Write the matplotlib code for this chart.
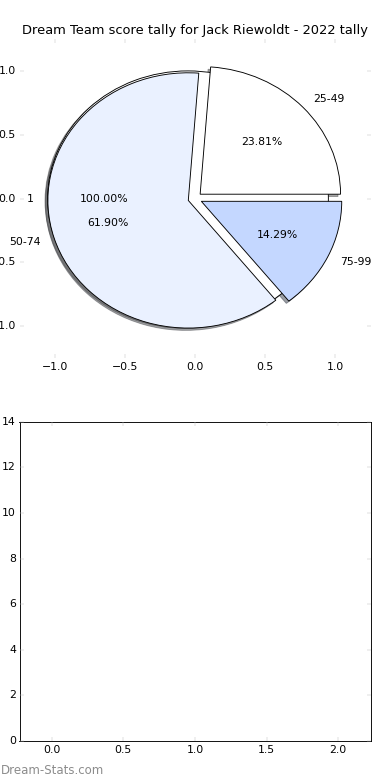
import matplotlib
matplotlib.use('Agg')
import matplotlib.pyplot as plt

plt.style.use('classic')
plt.rcParams['xtick.color'] = '#bbbbbb'
plt.rcParams['ytick.color'] = '#bbbbbb'
plt.rcParams['xtick.labelcolor'] = 'black'
plt.rcParams['ytick.labelcolor'] = 'black'

title = 'Dream Team score tally for Jack Riewoldt - 2022 tally'

# full-circle "total" pie drawn underneath
total_labels = ['1']
total_values = [21]

# score bands
band_labels = ['25-49', '50-74', '75-99']
band_values = [5, 13, 3]
band_colors = ['#ffffff', '#eaf1ff', '#c4d7ff']

pie_ticks = [-1.0, -0.5, 0.0, 0.5, 1.0]
bar_yticks = [0, 2, 4, 6, 8, 10, 12, 14]
bar_xticks = [0.0, 0.5, 1.0, 1.5, 2.0]

fig = plt.figure(figsize=(6, 12), dpi=65)
fig.subplots_adjust(left=0.05, right=0.95, top=0.95, bottom=0.05, hspace=0.2)

ax1 = fig.add_subplot(2, 1, 1)
wp = dict(edgecolor='black', linewidth=1.0)
ax1.pie(total_values, labels=total_labels, explode=[0.05], colors=['white'],
        autopct='%1.2f%%', shadow=True, frame=True, wedgeprops=wp)
ax1.pie(band_values, labels=band_labels, explode=[0.05] * 3, colors=band_colors,
        autopct='%1.2f%%', shadow=True, frame=True, wedgeprops=wp)
ax1.set_aspect('auto')
ax1.set_xlim(-1.25, 1.25)
ax1.set_ylim(-1.25, 1.25)
ax1.set_xticks(pie_ticks)
ax1.set_yticks(pie_ticks)
ax1.set_frame_on(False)
ax1.set_title(title)

ax2 = fig.add_subplot(2, 1, 2)
ax2.set_xlim(-0.225, 2.225)
ax2.set_ylim(0, 14)
ax2.set_xticks(bar_xticks)
ax2.set_yticks(bar_yticks)

fig.text(0.002, 0.0128, 'Dream-Stats.com', color='#8c8c8c', fontsize=13,
         va='center', ha='left')

fig.savefig('out.png', dpi=65)
